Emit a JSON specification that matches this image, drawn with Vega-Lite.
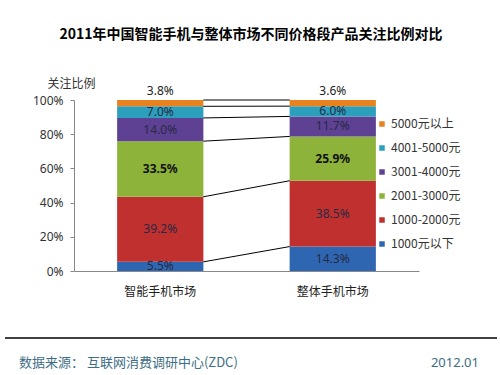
{
  "$schema": "https://vega.github.io/schema/vega-lite/v6.json",
  "padding": {"left": 4, "right": 4, "top": 28, "bottom": 0},
  "background": "white",
  "title": {"text": "2011年中国智能手机与整体市场不同价格段产品关注比例对比", "font": "Noto Sans CJK SC", "fontSize": 14, "fontWeight": "bold", "color": "#000000", "anchor": "middle", "offset": 35},
  "config": {
    "font": "Noto Sans CJK SC",
    "view": {"stroke": null},
    "axisY": {"format": ".0%", "values": [0, 0.2, 0.4, 0.6, 0.8, 1], "labelOverlap": false, "grid": false, "domainColor": "#888888", "tickColor": "#888888", "tickSize": 4, "labelPadding": 7, "labelFontSize": 12, "labelColor": "#333333", "labelFont": "Noto Sans", "titleAngle": 0, "titleX": -3, "titleY": -17, "titleAlign": "center", "titleBaseline": "middle", "titleFontWeight": "normal", "titleFontSize": 12, "titleColor": "#333333"}
  },
  "datasets": {
    "share": [
      {"market": "智能手机市场", "category": "1000元以下", "rank": 1, "value": 0.055},
      {"market": "智能手机市场", "category": "1000-2000元", "rank": 2, "value": 0.392},
      {"market": "智能手机市场", "category": "2001-3000元", "rank": 3, "value": 0.335},
      {"market": "智能手机市场", "category": "3001-4000元", "rank": 4, "value": 0.140},
      {"market": "智能手机市场", "category": "4001-5000元", "rank": 5, "value": 0.070},
      {"market": "智能手机市场", "category": "5000元以上", "rank": 6, "value": 0.038},
      {"market": "整体手机市场", "category": "1000元以下", "rank": 1, "value": 0.143},
      {"market": "整体手机市场", "category": "1000-2000元", "rank": 2, "value": 0.385},
      {"market": "整体手机市场", "category": "2001-3000元", "rank": 3, "value": 0.259},
      {"market": "整体手机市场", "category": "3001-4000元", "rank": 4, "value": 0.117},
      {"market": "整体手机市场", "category": "4001-5000元", "rank": 5, "value": 0.060},
      {"market": "整体手机市场", "category": "5000元以上", "rank": 6, "value": 0.036}
    ],
    "footer": [
      {"source": "数据来源： 互联网消费调研中心(ZDC)", "date": "2012.01"}
    ]
  },
  "concat": [
    {
      "width": 345,
      "height": 171,
      "data": {"name": "share"},
      "transform": [
        {"stack": "value", "groupby": ["market"], "sort": [{"field": "rank", "order": "ascending"}], "offset": "normalize", "as": ["y0", "y1"]}
      ],
      "encoding": {
        "x": {
          "field": "market", "type": "nominal",
          "sort": ["智能手机市场", "整体手机市场"],
          "scale": {"domain": ["智能手机市场", "整体手机市场"], "paddingInner": 0.5, "paddingOuter": 0.25},
          "axis": {"title": null, "labelAngle": 0, "labelFontSize": 12, "labelColor": "#222222", "labelPadding": 15, "ticks": false, "domainColor": "#888888", "domainWidth": 1}
        }
      },
      "layer": [
        {
          "mark": {"type": "bar"},
          "encoding": {
            "y": {
              "field": "y0", "type": "quantitative", "title": "关注比例",
              "scale": {"domain": [0, 1], "nice": false},
              "axis": {"format": ".0%", "values": [0, 0.2, 0.4, 0.6, 0.8, 1], "labelOverlap": false}
            },
            "y2": {"field": "y1"},
            "color": {
              "field": "category", "type": "nominal",
              "scale": {
                "domain": ["5000元以上", "4001-5000元", "3001-4000元", "2001-3000元", "1000-2000元", "1000元以下"],
                "range": ["#E8821E", "#2B9FBB", "#5E4193", "#8DB33A", "#C0302E", "#2F66B1"]
              },
              "legend": {"title": null, "orient": "none", "legendX": 302, "legendY": 18, "symbolType": "square", "symbolSize": 30, "symbolStrokeWidth": 0, "labelFontSize": 12, "labelColor": "#333333", "rowPadding": 12, "labelOffset": 3}
            }
          }
        },
        {
          "transform": [{"pivot": "market", "value": "y1", "groupby": ["category"]}],
          "mark": {"type": "rule", "color": "#000000", "strokeWidth": 1, "xOffset": 43, "x2Offset": -43},
          "encoding": {
            "x": {"datum": "智能手机市场"},
            "x2": {"datum": "整体手机市场"},
            "y": {"field": "智能手机市场", "type": "quantitative", "title": "关注比例", "axis": {"format": ".0%", "values": [0, 0.2, 0.4, 0.6, 0.8, 1], "labelOverlap": false}},
            "y2": {"field": "整体手机市场"}
          }
        },
        {
          "transform": [
            {"filter": {"field": "category", "oneOf": ["1000元以下", "1000-2000元", "3001-4000元", "4001-5000元"]}},
            {"fold": ["y0", "y1"], "as": ["k", "yv"]}
          ],
          "mark": {"type": "text", "fontSize": 12, "color": "#262a45", "font": "Noto Sans"},
          "encoding": {
            "y": {"aggregate": "mean", "field": "yv", "type": "quantitative", "title": "关注比例", "axis": {"format": ".0%", "values": [0, 0.2, 0.4, 0.6, 0.8, 1], "labelOverlap": false}},
            "text": {"field": "value", "type": "quantitative", "format": ".1%"},
            "detail": {"field": "category"}
          }
        },
        {
          "transform": [
            {"filter": {"field": "category", "equal": "2001-3000元"}},
            {"fold": ["y0", "y1"], "as": ["k", "yv"]}
          ],
          "mark": {"type": "text", "fontSize": 12, "fontWeight": "bold", "color": "#111111", "font": "Noto Sans"},
          "encoding": {
            "y": {"aggregate": "mean", "field": "yv", "type": "quantitative", "title": "关注比例", "axis": {"format": ".0%", "values": [0, 0.2, 0.4, 0.6, 0.8, 1], "labelOverlap": false}},
            "text": {"field": "value", "type": "quantitative", "format": ".1%"},
            "detail": {"field": "category"}
          }
        },
        {
          "transform": [{"filter": {"field": "category", "equal": "5000元以上"}}],
          "mark": {"type": "text", "fontSize": 12, "color": "#222222", "baseline": "bottom", "dy": -2, "font": "Noto Sans"},
          "encoding": {
            "y": {"field": "y1", "type": "quantitative", "title": "关注比例", "axis": {"format": ".0%", "values": [0, 0.2, 0.4, 0.6, 0.8, 1], "labelOverlap": false}},
            "text": {"field": "value", "type": "quantitative", "format": ".1%"}
          }
        }
      ]
    },
    {
      "width": 345,
      "height": 36,
      "data": {"name": "footer"},
      "layer": [
        {
          "mark": {"type": "rule", "color": "#000000", "strokeWidth": 1.5, "xOffset": -69, "x2Offset": 78},
          "encoding": {
            "x": {"datum": 0, "type": "quantitative", "scale": {"domain": [0, 1]}, "axis": null},
            "x2": {"datum": 1},
            "y": {"datum": 1, "type": "quantitative", "scale": {"domain": [0, 1]}, "axis": null}
          }
        },
        {
          "mark": {"type": "text", "align": "left", "baseline": "middle", "dx": -55, "fontSize": 13, "color": "#3d6e84"},
          "encoding": {
            "x": {"datum": 0, "type": "quantitative"},
            "y": {"datum": 0.3, "type": "quantitative"},
            "text": {"field": "source"}
          }
        },
        {
          "mark": {"type": "text", "align": "right", "baseline": "middle", "dx": 60, "fontSize": 13, "color": "#3d6e84", "font": "Noto Sans"},
          "encoding": {
            "x": {"datum": 1, "type": "quantitative"},
            "y": {"datum": 0.3, "type": "quantitative"},
            "text": {"field": "date"}
          }
        }
      ]
    }
  ],
  "columns": 1,
  "spacing": 40
}
